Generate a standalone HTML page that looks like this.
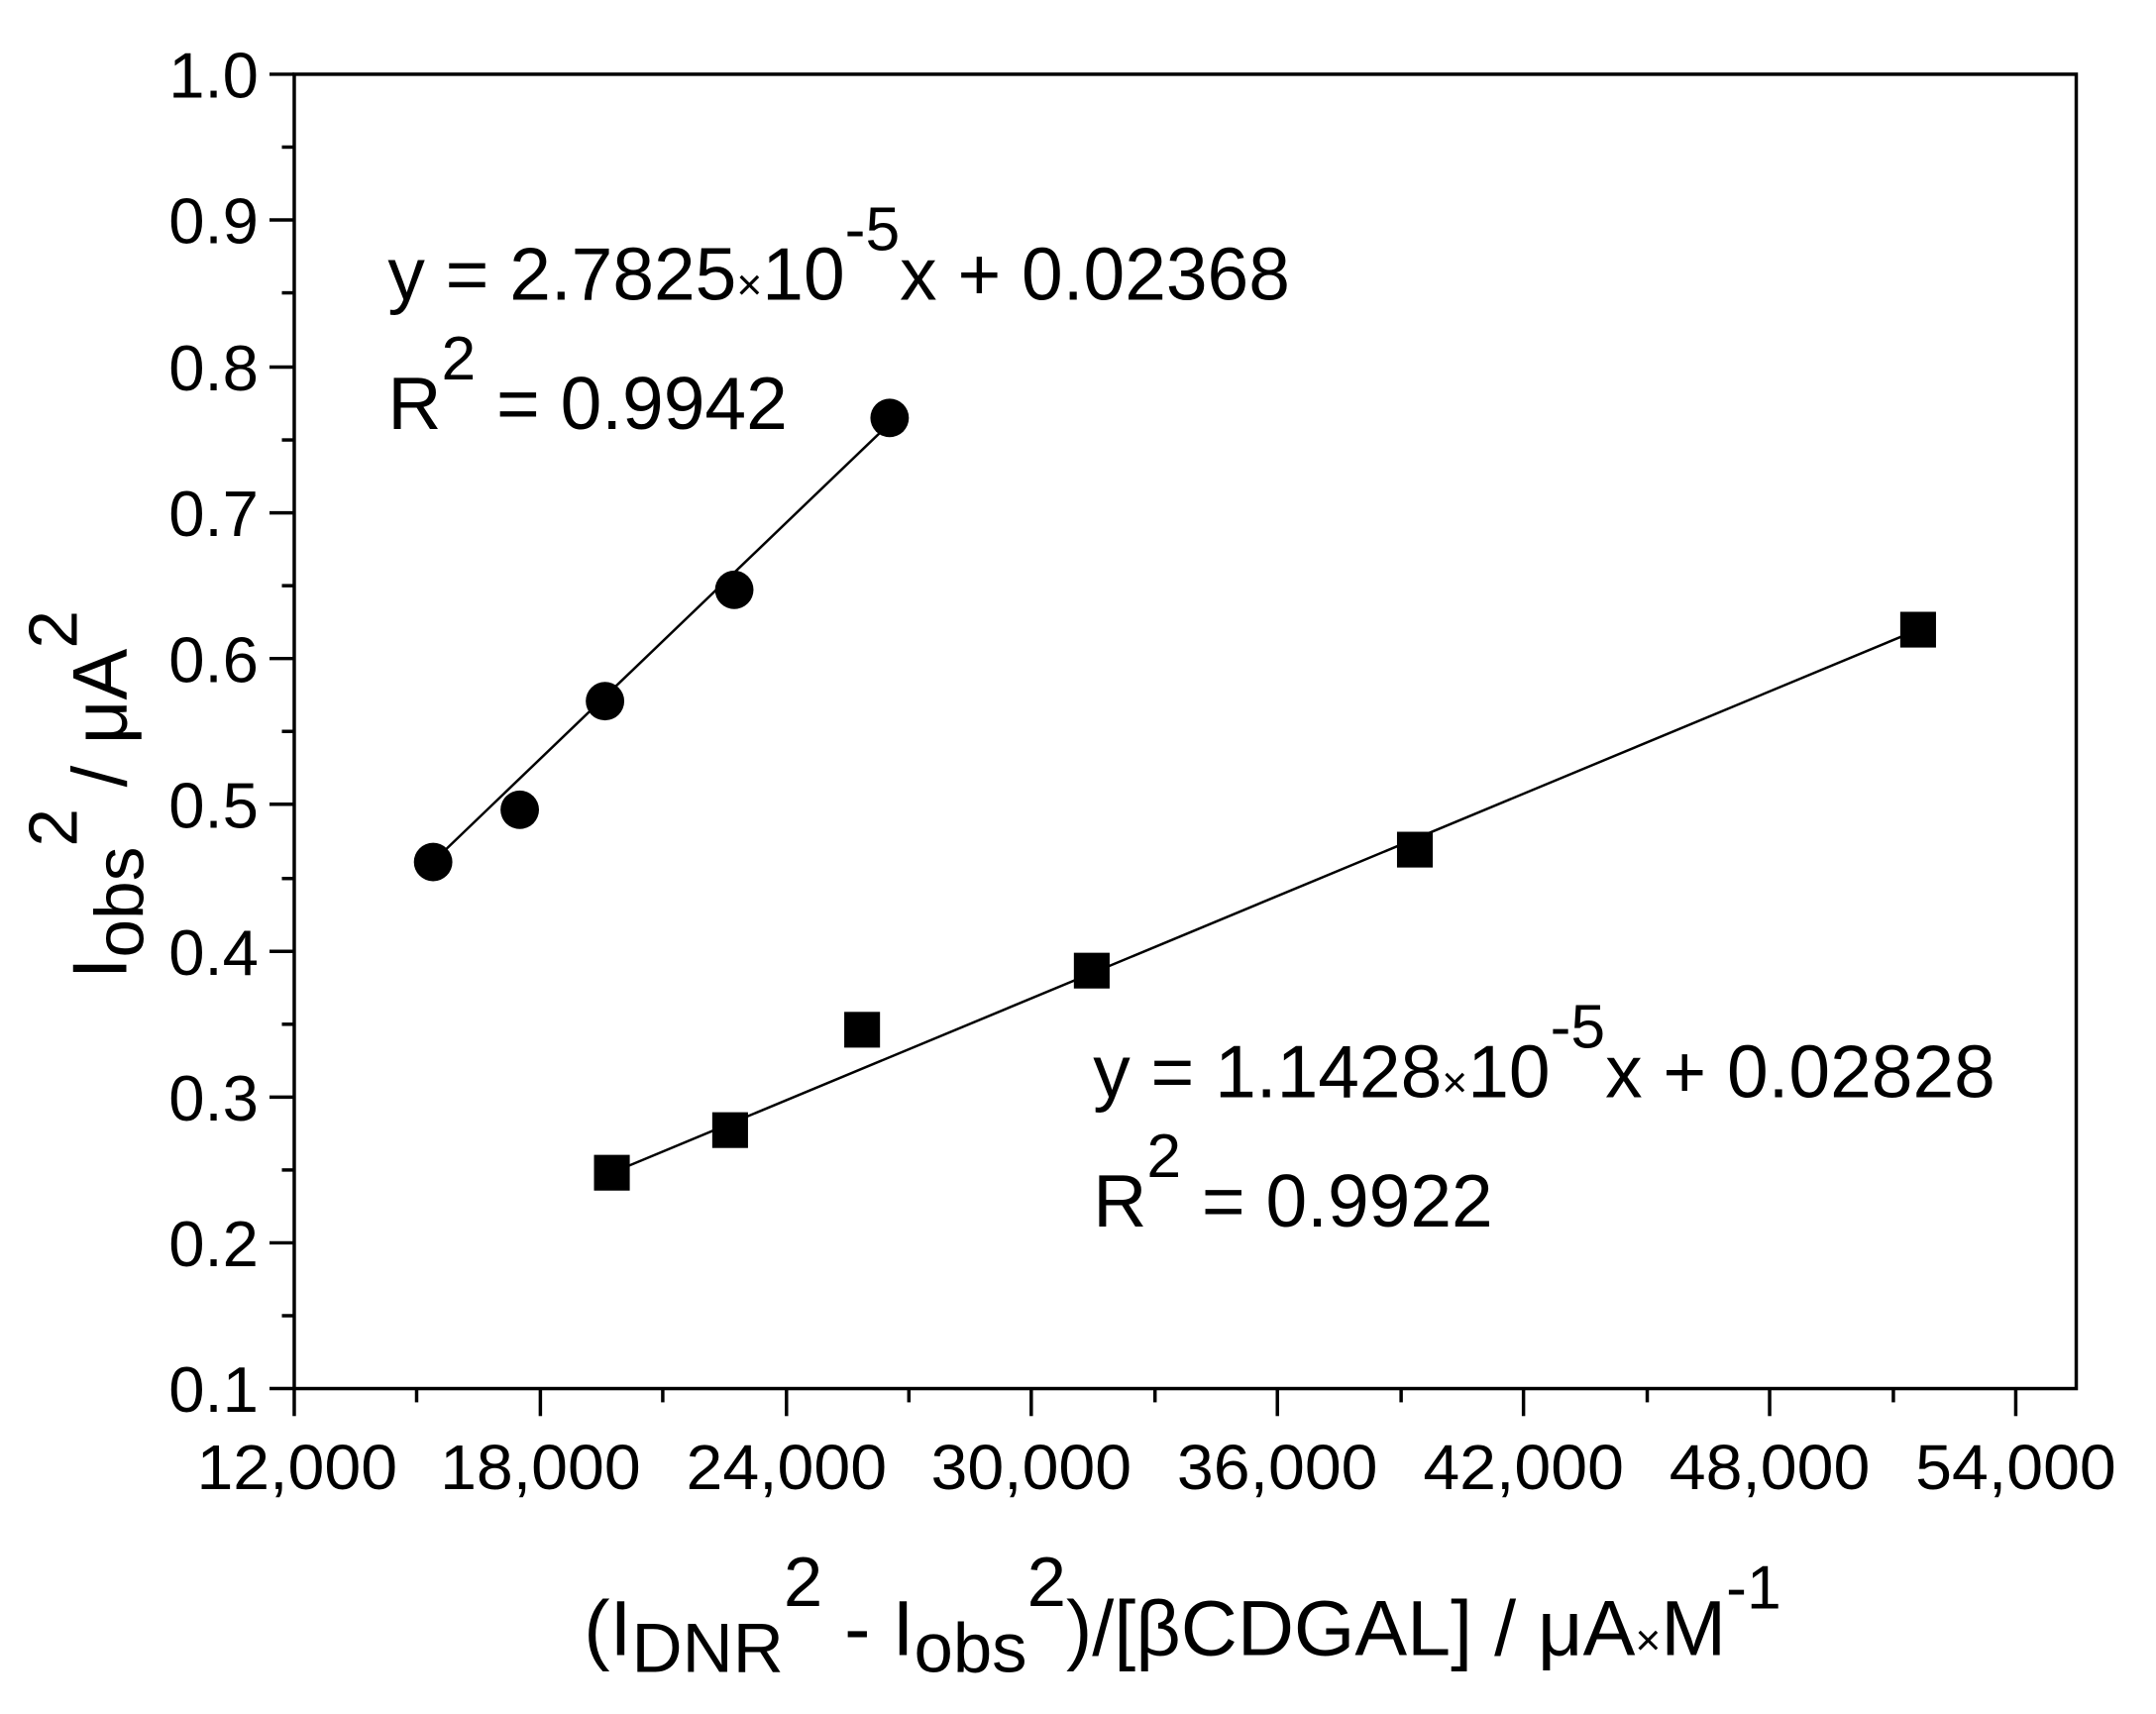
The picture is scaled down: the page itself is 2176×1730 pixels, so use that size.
<!DOCTYPE html>
<html><head><meta charset="utf-8"><style>html,body{margin:0;padding:0;background:#fff}svg{display:block}</style></head>
<body>
<svg width="2176" height="1730" viewBox="0 0 1568 1246.7" preserveAspectRatio="none" xmlns="http://www.w3.org/2000/svg" font-family="Liberation Sans, Arial, sans-serif" fill="#000">
<rect x="0" y="0" width="1568" height="1247" fill="#fff"/>
<rect x="214" y="54" width="1296" height="956" fill="none" stroke="#000" stroke-width="2.5"/>
<g stroke="#000" stroke-width="2.5">
<line x1="196" y1="54" x2="214" y2="54"/><line x1="196" y1="160" x2="214" y2="160"/><line x1="196" y1="267" x2="214" y2="267"/><line x1="196" y1="373" x2="214" y2="373"/><line x1="196" y1="479" x2="214" y2="479"/><line x1="196" y1="585" x2="214" y2="585"/><line x1="196" y1="692" x2="214" y2="692"/><line x1="196" y1="798" x2="214" y2="798"/><line x1="196" y1="904" x2="214" y2="904"/><line x1="196" y1="1010" x2="214" y2="1010"/>
<line x1="205" y1="107" x2="214" y2="107"/><line x1="205" y1="213" x2="214" y2="213"/><line x1="205" y1="320" x2="214" y2="320"/><line x1="205" y1="426" x2="214" y2="426"/><line x1="205" y1="532" x2="214" y2="532"/><line x1="205" y1="639" x2="214" y2="639"/><line x1="205" y1="745" x2="214" y2="745"/><line x1="205" y1="851" x2="214" y2="851"/><line x1="205" y1="957" x2="214" y2="957"/>
<line x1="214" y1="1010" x2="214" y2="1030"/><line x1="393" y1="1010" x2="393" y2="1030"/><line x1="572" y1="1010" x2="572" y2="1030"/><line x1="750" y1="1010" x2="750" y2="1030"/><line x1="929" y1="1010" x2="929" y2="1030"/><line x1="1108" y1="1010" x2="1108" y2="1030"/><line x1="1287" y1="1010" x2="1287" y2="1030"/><line x1="1466" y1="1010" x2="1466" y2="1030"/>
<line x1="303" y1="1010" x2="303" y2="1020"/><line x1="482" y1="1010" x2="482" y2="1020"/><line x1="661" y1="1010" x2="661" y2="1020"/><line x1="840" y1="1010" x2="840" y2="1020"/><line x1="1019" y1="1010" x2="1019" y2="1020"/><line x1="1198" y1="1010" x2="1198" y2="1020"/><line x1="1377" y1="1010" x2="1377" y2="1020"/>
</g>
<g font-size="47" text-anchor="end">
<text x="188" y="71">1.0</text><text x="188" y="177">0.9</text><text x="188" y="284">0.8</text><text x="188" y="390">0.7</text><text x="188" y="496">0.6</text><text x="188" y="602">0.5</text><text x="188" y="709">0.4</text><text x="188" y="815">0.3</text><text x="188" y="921">0.2</text><text x="188" y="1027">0.1</text>
</g>
<g font-size="46" text-anchor="middle">
<text x="216" y="1083" textLength="146" lengthAdjust="spacingAndGlyphs">12,000</text><text x="393" y="1083" textLength="146" lengthAdjust="spacingAndGlyphs">18,000</text><text x="572" y="1083" textLength="146" lengthAdjust="spacingAndGlyphs">24,000</text><text x="750" y="1083" textLength="146" lengthAdjust="spacingAndGlyphs">30,000</text><text x="929" y="1083" textLength="146" lengthAdjust="spacingAndGlyphs">36,000</text><text x="1108" y="1083" textLength="146" lengthAdjust="spacingAndGlyphs">42,000</text><text x="1287" y="1083" textLength="146" lengthAdjust="spacingAndGlyphs">48,000</text><text x="1466" y="1083" textLength="146" lengthAdjust="spacingAndGlyphs">54,000</text>
</g>
<line x1="322" y1="620" x2="647" y2="308" stroke="#000" stroke-width="1.8"/>
<line x1="445" y1="853" x2="1395" y2="458" stroke="#000" stroke-width="1.8"/>
<g>
<circle cx="315" cy="627" r="14"/><circle cx="378" cy="589" r="14"/><circle cx="440" cy="510" r="14"/><circle cx="534" cy="429" r="14"/><circle cx="647" cy="304" r="14"/>
<rect x="432" y="840" width="26" height="26"/><rect x="518" y="809" width="26" height="26"/><rect x="614" y="736" width="26" height="26"/><rect x="781" y="693" width="26" height="26"/><rect x="1016" y="605" width="26" height="26"/><rect x="1382" y="445" width="26" height="26"/>
</g>
<g font-size="54">
<text x="282" y="218">y = 2.7825<tspan font-size="32">×</tspan>10<tspan font-size="45" dy="-36">-5</tspan><tspan dy="36">x + 0.02368</tspan></text>
<text x="282" y="312">R<tspan font-size="45" dy="-36">2</tspan><tspan dy="36"> = 0.9942</tspan></text>
<text x="795" y="798">y = 1.1428<tspan font-size="32">×</tspan>10<tspan font-size="45" dy="-36">-5</tspan><tspan dy="36">x + 0.02828</tspan></text>
<text x="795" y="892">R<tspan font-size="45" dy="-36">2</tspan><tspan dy="36"> = 0.9922</tspan></text>
</g>
<text x="860" y="1204" font-size="57" text-anchor="middle">(I<tspan font-size="51" dy="12">DNR</tspan><tspan font-size="51" dy="-48">2</tspan><tspan dy="36"> - I</tspan><tspan font-size="51" dy="12">obs</tspan><tspan font-size="51" dy="-48">2</tspan><tspan dy="36">)/[βCDGAL] / μA</tspan><tspan font-size="32">×</tspan>M<tspan font-size="45" dy="-34">-1</tspan></text>
<text transform="translate(92,578) rotate(-90)" font-size="56" text-anchor="middle">I<tspan font-size="50" dy="12">obs</tspan><tspan font-size="50" dy="-48">2</tspan><tspan dy="36"> / μA</tspan><tspan font-size="50" dy="-36">2</tspan></text>
</svg>
</body></html>
